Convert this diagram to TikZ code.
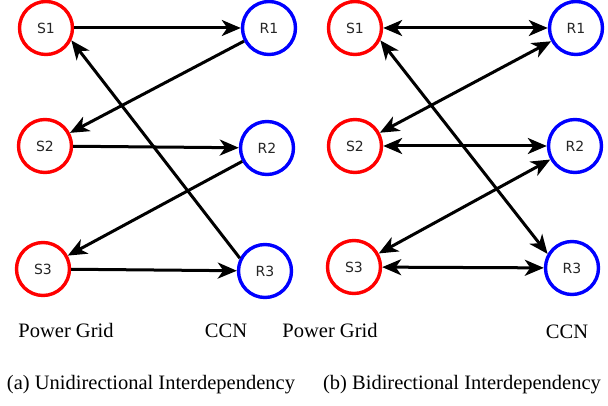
\documentclass[tikz,border=0pt]{standalone}
\usepackage{fontspec}
\setmainfont{Liberation Serif}
\newfontfamily\nodefont{DejaVu Sans}
\usetikzlibrary{arrows.meta}
\tikzset{
  snode/.style={circle, draw=red, line width=3.4pt, minimum size=53pt, inner sep=0pt, text=black!85, font=\nodefont\fontsize{14}{16}\selectfont},
  rnode/.style={circle, draw=blue, line width=3.4pt, minimum size=53pt, inner sep=0pt, text=black!85, font=\nodefont\fontsize{14}{16}\selectfont},
  link/.style={line width=3pt, -{Stealth[length=19pt,width=16pt,inset=5.5pt]}},
  blink/.style={line width=3pt, {Stealth[length=19pt,width=16pt,inset=5.5pt]}-{Stealth[length=19pt,width=16pt,inset=5.5pt]}},
  lbl/.style={font=\fontsize{20.5}{23}\selectfont},
}
\begin{document}
\begin{tikzpicture}[x=1pt,y=-1pt]
\useasboundingbox (0,0) rectangle (608,406);
% left panel
\node[snode] (aS1) at (46,28) {S1};
\node[snode] (aS2) at (45,146) {S2};
\node[snode] (aS3) at (43,269) {S3};
\node[rnode] (aR1) at (269,28) {R1};
\node[rnode] (aR2) at (267,148) {R2};
\node[rnode] (aR3) at (265,271) {R3};
\draw[link] (aS1) -- (aR1);
\draw[link] (aR1) -- (aS2);
\draw[link] (aR3.153) -- (aS1.-26);
\draw[link] (aS2) -- (aR2);
\draw[link] (aR2) -- (aS3);
\draw[link] (aS3) -- (aR3);
% right panel
\node[snode] (bS1) at (355,28) {S1};
\node[snode] (bS2) at (355,146) {S2};
\node[snode] (bS3) at (354,267) {S3};
\node[rnode] (bR1) at (576,28) {R1};
\node[rnode] (bR2) at (575,146) {R2};
\node[rnode] (bR3) at (572,268) {R3};
\draw[blink] (bS1) -- (bR1);
\draw[blink] (bS2) -- (bR1);
\draw[blink] (bS1.-26) -- (bR3.150);
\draw[blink] (bS2) -- (bR2);
\draw[blink] (bS3) -- (bR2);
\draw[blink] (bS3) -- (bR3);
% labels
\node[lbl] (pa) at (66,330) {Power Grid};
\node[lbl] (ca) at (226,331) {CCN};
\node[lbl] (pb) at (330,330) {Power Grid};
\node[lbl] (cb) at (567,332) {CCN};
\node[lbl] (capa) at (151,385) {(a) Unidirectional Interdependency};
\node[lbl] (capb) at (462,385) {(b) Bidirectional Interdependency};
\end{tikzpicture}
\end{document}
